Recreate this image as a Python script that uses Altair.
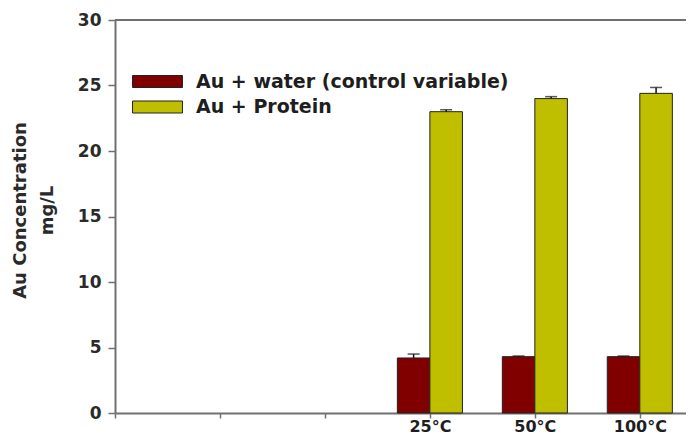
import json
import altair as alt
import pandas as pd

# ---- data ----
slot_labels = ["", "", "", "25°C", "50°C", "100°C"]
temps = ["25°C", "50°C", "100°C"]
series = ["Au + water (control variable)", "Au + Protein"]
water = [4.2, 4.3, 4.3]
water_err = [0.3, 0.05, 0.05]
protein = [23.0, 24.0, 24.4]
protein_err = [0.15, 0.15, 0.45]
colors = ["#800000", "#BFBF00"]
y_ticks = [0, 5, 10, 15, 20, 25, 30]
y_title = ["Au Concentration", "mg/L"]

rows = []
for t, w, we, p, pe in zip(temps, water, water_err, protein, protein_err):
    slot = slot_labels.index(t)
    rows.append({"temp": t, "slot": slot, "series": series[0], "k": 0, "value": w, "err": we})
    rows.append({"temp": t, "slot": slot, "series": series[1], "k": 1, "value": p, "err": pe})
df = pd.DataFrame(rows)

BW = 0.31  # bar width in slot units
label_expr = json.dumps(slot_labels, ensure_ascii=False) + "[datum.value]"

base = alt.Chart(df).transform_calculate(
    x0=f"datum.slot + (datum.k - 1) * {BW}",
).transform_calculate(
    x1=f"datum.x0 + {BW}",
    xc=f"datum.x0 + {BW / 2}",
    top="datum.value + datum.err",
)

xscale = alt.Scale(domain=[0, 5.44], nice=False, zero=False)
yscale = alt.Scale(domain=[0, 30], nice=False)
xaxis = alt.Axis(values=list(range(len(slot_labels))), labelExpr=label_expr,
                 grid=False, tickSize=5, labelPadding=0)
yaxis = alt.Axis(values=y_ticks, grid=False, tickSize=7, labelPadding=7,
                 titleAngle=-90, titleX=-95, titleY=190, titleAlign="center",
                 titleBaseline="middle", titleLineHeight=27)

bars = base.mark_bar(stroke="#222222", strokeWidth=1).encode(
    x=alt.X("x0:Q", scale=xscale, title=None, axis=xaxis),
    x2="x1:Q",
    y=alt.Y("value:Q", scale=yscale, title=y_title, axis=yaxis),
    y2=alt.datum(0),
    color=alt.Color("series:N", scale=alt.Scale(domain=series, range=colors), sort=series,
                    legend=alt.Legend(title=None, orient="none", legendX=30, legendY=49,
                                      symbolType="M-2.08,-0.5H2.08V0.5H-2.08Z", symbolSize=576,
                                      symbolStrokeColor="#222222", symbolStrokeWidth=1,
                                      rowPadding=2.5, labelOffset=26,
                                      labelFont="DejaVu Sans", labelFontSize=19,
                                      labelFontWeight="bold", labelColor="#1e1e1e",
                                      labelLimit=500)),
)

err_rule = base.mark_rule(color="#111111", strokeWidth=1.5).encode(
    x=alt.X("xc:Q", scale=xscale, title=None, axis=xaxis),
    y=alt.Y("value:Q", scale=yscale, title=y_title, axis=yaxis),
    y2="top:Q",
)
err_cap = base.mark_tick(color="#111111", orient="horizontal", size=12, thickness=1.5).encode(
    x=alt.X("xc:Q", scale=xscale, title=None, axis=xaxis),
    y=alt.Y("top:Q", scale=yscale, title=y_title, axis=yaxis),
)
frame_top = alt.Chart(pd.DataFrame({"edge": [y_ticks[-1]]})).mark_rule(
    color="#707070", strokeWidth=2
).encode(y=alt.Y("edge:Q", scale=yscale, title=y_title, axis=yaxis))

chart = alt.layer(bars, err_rule, err_cap, frame_top).properties(
    width=571, height=393,
    padding={"left": 107, "top": 12, "right": 0, "bottom": 21},
    autosize=alt.AutoSizeParams(type="none"),
).configure_view(stroke=None).configure_axis(
    domainColor="#707070", domainWidth=2, tickColor="#707070", tickWidth=1.5,
    labelFont="DejaVu Sans", labelFontWeight="bold", labelColor="#2a2a2a",
    titleFont="DejaVu Sans", titleFontWeight="bold", titleColor="#2a2a2a", titleFontSize=18,
).configure_axisX(labelFontSize=16, labelColor="#1e1e1e").configure_axisY(labelFontSize=17)

chart.save("out.html", embed_options={"renderer": "svg", "actions": False})
